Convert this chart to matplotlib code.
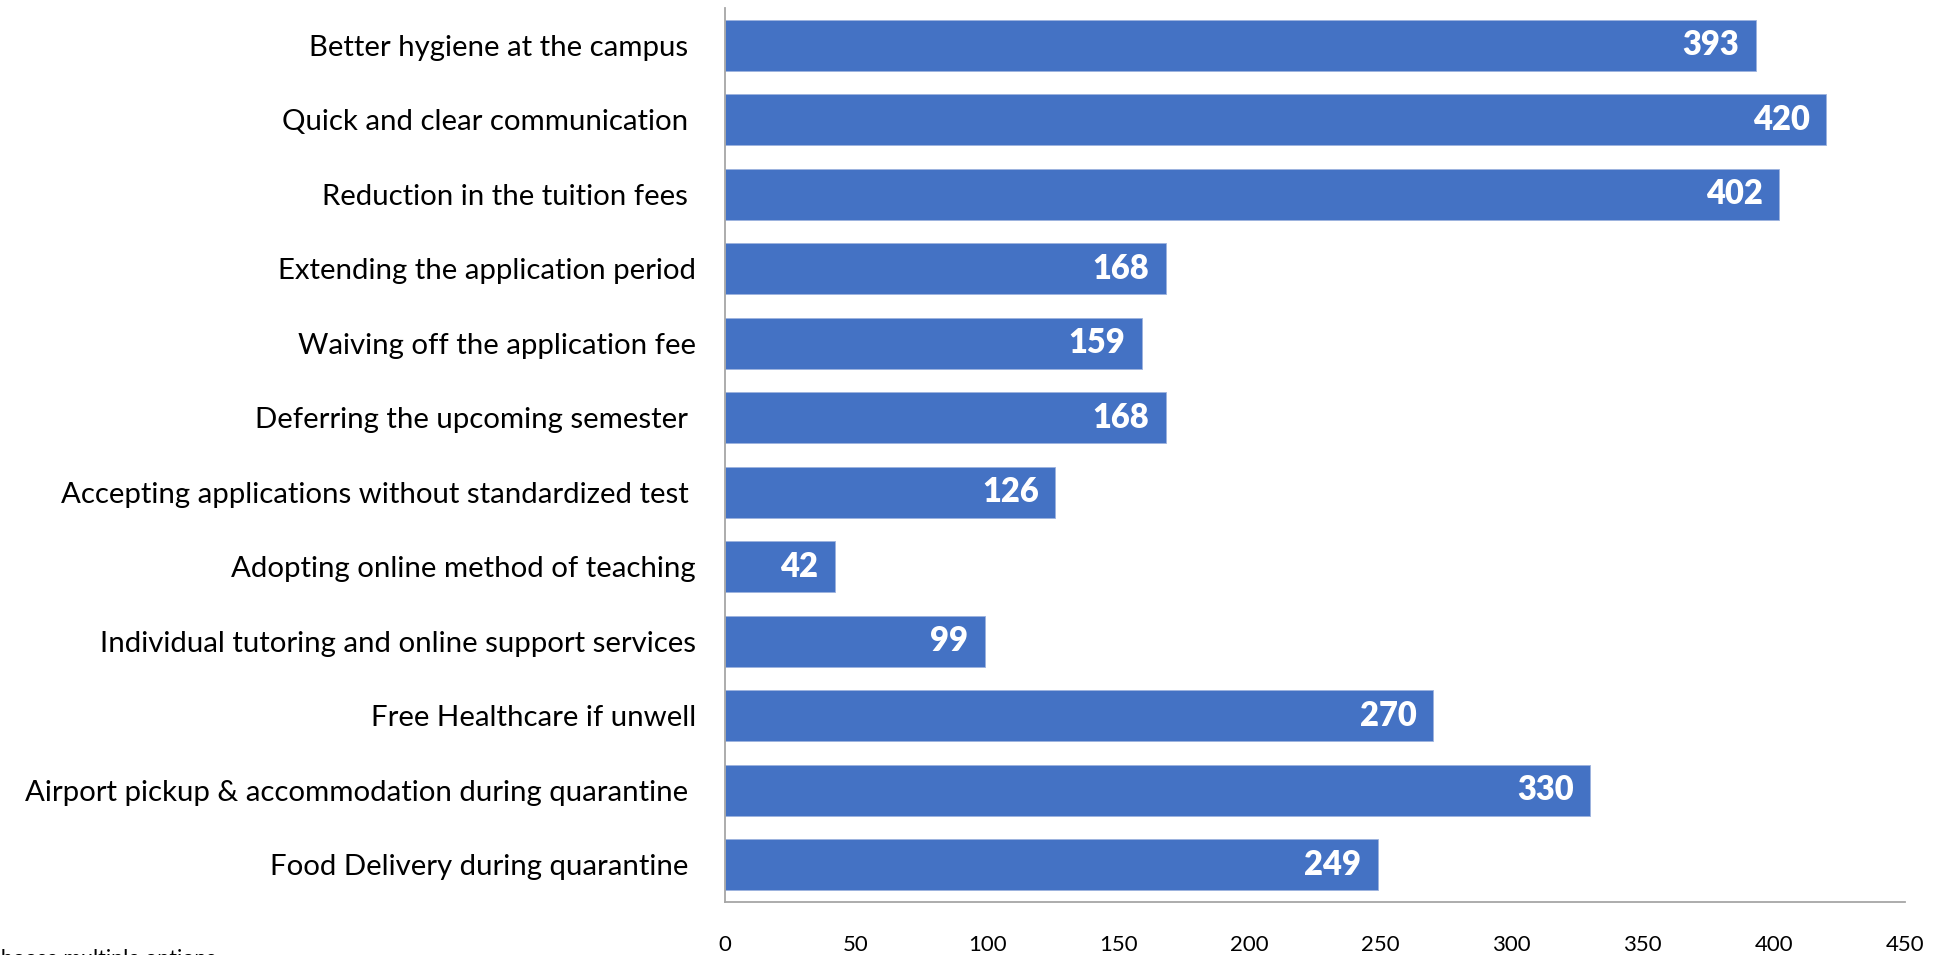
import matplotlib
matplotlib.use("Agg")
import matplotlib.pyplot as plt

categories = [
    "Better hygiene at the campus ",
    "Quick and clear communication ",
    "Reduction in the tuition fees ",
    "Extending the application period",
    "Waiving off the application fee",
    "Deferring the upcoming semester ",
    "Accepting applications without standardized test ",
    "Adopting online method of teaching",
    "Individual tutoring and online support services",
    "Free Healthcare if unwell",
    "Airport pickup & accommodation during quarantine ",
    "Food Delivery during quarantine ",
]
values = [393, 420, 402, 168, 159, 168, 126, 42, 99, 270, 330, 249]
xticks = [0, 50, 100, 150, 200, 250, 300, 350, 400, 450]
footnote = "*Respondents could choose multiple options"

plt.rcParams['font.family'] = ['Lato', 'DejaVu Sans']

W, H = 1934, 955
fig = plt.figure(figsize=(W / 100, H / 100), dpi=100)
ax = fig.add_axes([725 / W, 1 - 902 / H, (1905 - 725) / W, (902 - 8) / H])

ypos = list(range(len(categories)))
ax.barh(ypos, values, height=0.685, color="#4472C4", edgecolor="#9DB3DE", linewidth=0.6)
ax.set_ylim(len(categories) - 0.5, -0.5)
ax.set_xlim(0, 450)
ax.set_yticks(ypos)
ax.set_yticklabels(categories, fontsize=21.2, color="#000000")
ax.set_xticks(xticks)
ax.set_xticklabels([str(t) for t in xticks], fontsize=16, color="#000000")
ax.tick_params(axis='y', length=0, pad=21)
ax.tick_params(axis='x', length=0, pad=24)

for s in ("top", "right"):
    ax.spines[s].set_visible(False)
for s in ("left", "bottom"):
    ax.spines[s].set_color("#A6A6A6")
    ax.spines[s].set_linewidth(1.3)

for y, v in zip(ypos, values):
    ax.annotate(str(v), xy=(v, y), xytext=(-12, 0), textcoords="offset points",
                ha="right", va="center", color="white", fontsize=23.5, fontweight="heavy")

fig.text(216 / W, 1 - 949 / H, footnote, ha="right", va="top", fontsize=15.5, color="#000000")

fig.savefig("out.png", dpi=100)
